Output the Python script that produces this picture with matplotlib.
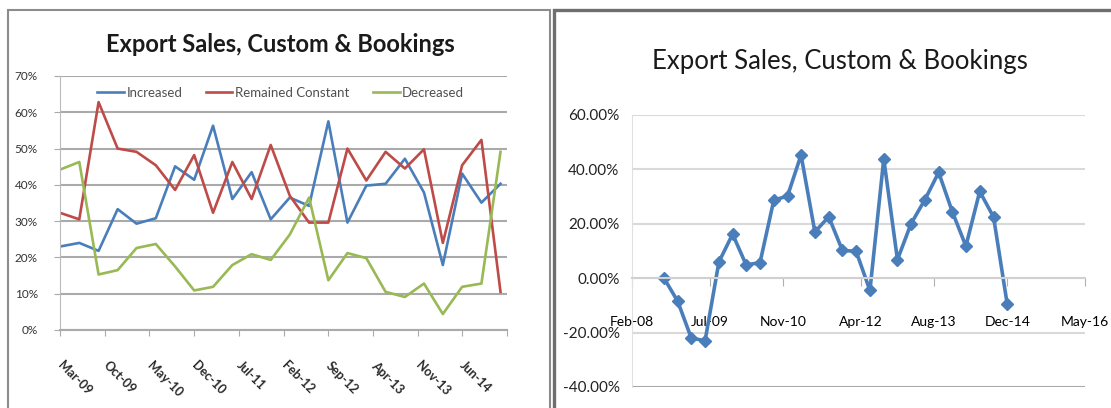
import pandas as pd
import matplotlib
matplotlib.use("Agg")
import matplotlib.pyplot as plt
from matplotlib import font_manager
from matplotlib.patches import Rectangle
from matplotlib.transforms import ScaledTranslation
from matplotlib.ticker import FuncFormatter

# quarterly survey: share of firms reporting export sales/bookings ...
quarters = ["Mar-09", "Jun-09", "Sep-09", "Dec-09", "Mar-10", "Jun-10", "Sep-10", "Dec-10",
            "Mar-11", "Jun-11", "Sep-11", "Dec-11", "Mar-12", "Jun-12", "Sep-12", "Dec-12",
            "Mar-13", "Jun-13", "Sep-13", "Dec-13", "Mar-14", "Jun-14", "Sep-14", "Dec-14"]
increased = [23.0, 24.0, 21.8, 33.3, 29.3, 30.8, 45.1, 41.4, 56.3, 36.1, 43.5, 30.5,
             36.5, 34.2, 57.5, 29.6, 39.8, 40.3, 47.2, 37.9, 17.9, 43.1, 35.1, 40.3]
remained = [32.3, 30.5, 62.8, 50.0, 49.1, 45.4, 38.6, 48.2, 32.3, 46.3, 36.1, 51.0,
            37.0, 29.6, 29.6, 50.0, 41.2, 49.1, 44.5, 49.8, 24.0, 45.4, 52.4, 10.5]
decreased = [44.2, 46.3, 15.3, 16.5, 22.6, 23.7, 17.5, 10.9, 11.9, 17.9, 20.9, 19.3,
             26.3, 36.5, 13.7, 21.2, 19.8, 10.5, 9.1, 12.8, 4.4, 11.9, 12.8, 49.1]

# net balance (increased minus decreased), starts two quarters earlier
net_quarters = ["Sep-08", "Dec-08"] + quarters
net_balance = [0.0, -8.5, -22.0, -23.0, 6.0, 16.2, 4.9, 5.7, 28.7, 30.2, 45.3, 17.0, 22.6,
               10.2, 9.9, -4.5, 43.9, 6.8, 20.0, 28.8, 38.9, 24.4, 11.8, 31.9, 22.5, -9.6]

left_ticks = ["Mar-09", "Oct-09", "May-10", "Dec-10", "Jul-11", "Feb-12",
              "Sep-12", "Apr-13", "Nov-13", "Jun-14"]
left_end = "Jan-15"
right_ticks = ["Feb-08", "Jul-09", "Nov-10", "Apr-12", "Aug-13", "Dec-14", "May-16"]

TITLE = "Export Sales, Custom & Bookings"


def to_dates(labels):
    return pd.to_datetime(labels, format="%b-%y")


plt.rcParams["font.family"] = ["Lato", "DejaVu Sans"]
names = {f.name for f in font_manager.fontManager.ttflist}
narrow = "Liberation Sans Narrow" if "Liberation Sans Narrow" in names else "Lato"

fig = plt.figure(figsize=(11.11, 4.08), dpi=100)
fig.patch.set_facecolor("white")

# panel frames
fig.patches.append(Rectangle((8 / 1111, -0.1), 542 / 1111, 1.1 - 10 / 408, transform=fig.transFigure,
                             fill=False, edgecolor="#8c8c8c", lw=1.5))
fig.patches.append(Rectangle((554 / 1111, -0.1), 0.6, 1.1 - 10 / 408, transform=fig.transFigure,
                             fill=False, edgecolor="#6e6e6e", lw=2.4))

# ---- left: three survey series ----
ax = fig.add_axes([60 / 1111, 1 - 330 / 408, 447 / 1111, 254 / 408])
x = to_dates(quarters)
ax.plot(x, increased, color="#4a7ebb", lw=1.9, label="Increased")
ax.plot(x, remained, color="#be4b48", lw=1.9, label="Remained Constant")
ax.plot(x, decreased, color="#98b954", lw=1.9, label="Decreased")

ticks = to_dates(left_ticks + [left_end])
ax.set_xlim(ticks[0], ticks[-1])
ax.set_xticks(ticks)
ax.set_xticklabels(left_ticks + [""], rotation=-45, ha="left", va="center",
                   rotation_mode="anchor", fontsize=9, fontweight="bold", color="#2a2a2a")
shift = ScaledTranslation(6 / 100, 0, fig.dpi_scale_trans)
for lab in ax.get_xticklabels():
    lab.set_transform(lab.get_transform() + shift)
ax.set_ylim(0, 70)
ax.set_yticks(range(0, 71, 10))
ax.yaxis.set_major_formatter(FuncFormatter(lambda v, p: f"{v:.0f}%"))
ax.tick_params(axis="y", length=4, pad=12, labelsize=8.5, labelcolor="#333333", color="#aaaaaa")
ax.tick_params(axis="x", length=4, pad=20, color="#aaaaaa")
ax.yaxis.grid(True, color="#aaaaaa", lw=1.5)
ax.set_axisbelow(True)
for side in ["top", "right"]:
    ax.spines[side].set_visible(False)
ax.spines["left"].set_color("#bbbbbb")
ax.spines["bottom"].set_color("#aaaaaa")
ax.spines["bottom"].set_linewidth(1.5)
ax.legend(loc="center", bbox_to_anchor=(0.494, 0.933), ncol=3, frameon=False,
          fontsize=9.5, handlelength=2.0, handletextpad=0.2, columnspacing=1.8,
          labelcolor="#505050")
fig.text(280 / 1111, 1 - 45 / 408, TITLE, ha="center", va="center",
         fontsize=17, fontweight="bold", color="#1a1a1a")

# ---- right: net balance ----
ax2 = fig.add_axes([632 / 1111, 1 - 387 / 408, 453 / 1111, 272 / 408])
ax2.plot(to_dates(net_quarters), net_balance, color="#4a7ebb", lw=2.6,
         marker="D", markersize=6)
rt = to_dates(right_ticks)
ax2.set_xlim(rt[0], rt[-1])
ax2.set_xticks(rt)
ax2.set_xticklabels(right_ticks, family=[narrow, "DejaVu Sans"], fontsize=11, color="#222222")
ax2.set_ylim(-40, 60)
ax2.set_yticks(range(-40, 61, 20))
ax2.yaxis.set_major_formatter(FuncFormatter(lambda v, p: f"{v:.2f}%"))
for lab in ax2.get_yticklabels():
    lab.set_family([narrow, "DejaVu Sans"])
ax2.tick_params(axis="y", length=0, pad=9, labelsize=11, labelcolor="#222222")
ax2.tick_params(axis="x", length=6, pad=21, color="#b0b0b0")
ax2.yaxis.grid(True, color="#d9d9d9", lw=1.5)
ax2.get_ygridlines()[0].set_color("#a8a8a8")
ax2.set_axisbelow(True)
for side in ["top", "right"]:
    ax2.spines[side].set_visible(False)
ax2.spines["left"].set_color("#e0e0e0")
ax2.spines["bottom"].set_position(("data", 0))
ax2.spines["bottom"].set_color("#d0d0d0")
ax2.spines["bottom"].set_linewidth(1.5)
fig.text(840 / 1111, 1 - 62 / 408, TITLE, ha="center", va="center",
         fontsize=18.5, family=[narrow, "DejaVu Sans"], color="#1a1a1a")

fig.savefig("out.png", dpi=100, facecolor="white")
